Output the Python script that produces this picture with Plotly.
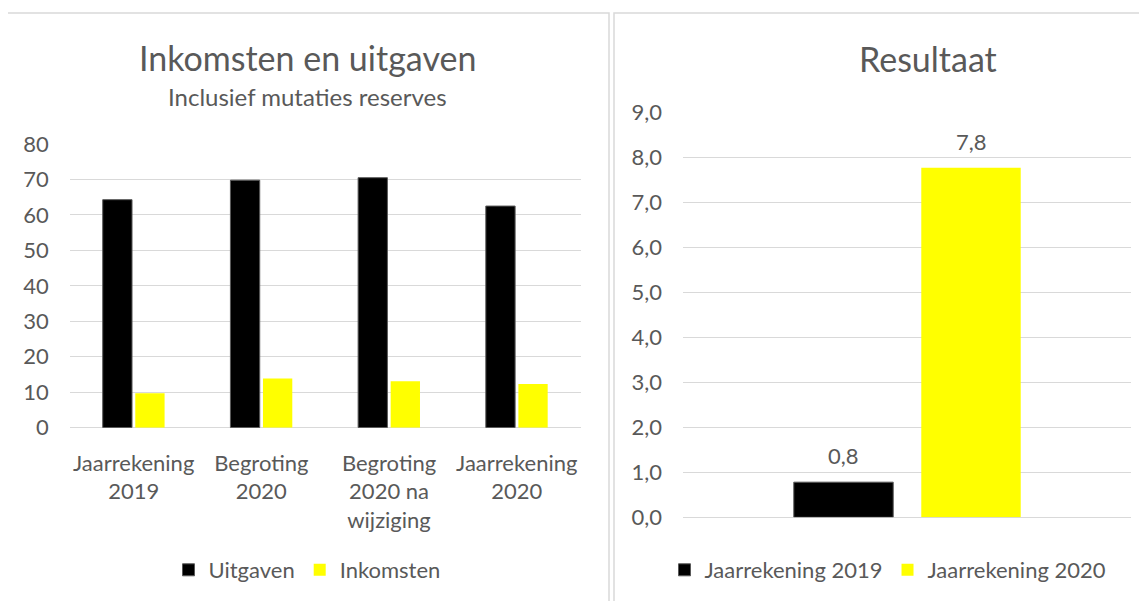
import plotly.graph_objects as go

# ---- data ----
categories = ["Jaarrekening<br>2019", "Begroting<br>2020", "Begroting<br>2020 na<br>wijziging", "Jaarrekening<br>2020"]
uitgaven = [64.3, 69.8, 70.5, 62.5]
inkomsten = [9.7, 13.9, 13.1, 12.3]

result_names = ["Jaarrekening 2019", "Jaarrekening 2020"]
result_values = [0.78, 7.76]
result_colors = ["#000000", "#ffff00"]

left_ticks = [0, 10, 20, 30, 40, 50, 60, 70, 80]
right_ticks = [0, 1, 2, 3, 4, 5, 6, 7, 8, 9]

W, H = 1147, 601
OFF = 8  # page body margin
FONT = "Lato"
TXT = "#595959"
GRID = "#d9d9d9"
FS = 22


def px(x):
    return (x - OFF) / W


def py(y):
    return 1 - (y - OFF) / H


fig = go.Figure()

fig.add_trace(go.Bar(x=categories, y=uitgaven, name="Uitgaven",
                     marker=dict(color="#000000", line=dict(color="#595959", width=1)),
                     xaxis="x", yaxis="y", legend="legend"))
fig.add_trace(go.Bar(x=categories, y=inkomsten, name="Inkomsten",
                     marker=dict(color="#ffff00", line=dict(color="#ffff00", width=0)),
                     xaxis="x", yaxis="y", legend="legend"))

for name, val, col in zip(result_names, result_values, result_colors):
    fig.add_trace(go.Bar(x=[name], y=[val], name=name, width=0.78, offsetgroup="res",
                         marker=dict(color=col, line=dict(color="#595959" if col == "#000000" else col,
                                                          width=1 if col == "#000000" else 0)),
                         xaxis="x2", yaxis="y2", legend="legend2"))

axis_font = dict(family=FONT, size=FS, color=TXT)

annotations = [
    dict(text="Inkomsten en uitgaven", xref="paper", yref="paper", x=px(307), y=py(57),
         xanchor="center", yanchor="middle", showarrow=False,
         font=dict(family=FONT, size=34, color=TXT)),
    dict(text="Inclusief mutaties reserves", xref="paper", yref="paper", x=px(307), y=py(97),
         xanchor="center", yanchor="middle", showarrow=False,
         font=dict(family=FONT, size=24, color=TXT)),
    dict(text="Resultaat", xref="paper", yref="paper", x=px(928), y=py(58),
         xanchor="center", yanchor="middle", showarrow=False,
         font=dict(family=FONT, size=34, color=TXT)),
]
for name, val in zip(result_names, result_values):
    annotations.append(dict(text=f"{val:.1f}".replace(".", ","), xref="x2", yref="y2",
                            x=name, y=val, yanchor="bottom", yshift=11, showarrow=False,
                            font=dict(family=FONT, size=FS, color=TXT)))

fig.update_layout(
    width=W, height=H,
    margin=dict(l=0, r=0, t=0, b=0, pad=0),
    paper_bgcolor="white", plot_bgcolor="white",
    separators=",.",
    barmode="group", bargap=0.49, bargroupgap=0.1,
    font=dict(family=FONT, color=TXT),
    xaxis=dict(domain=[px(69.8), px(580.6)], showgrid=False, showline=False,
               ticks="", tickfont=axis_font, fixedrange=True, automargin=False,
               ticklabelstandoff=20),
    yaxis=dict(domain=[py(427.7), py(144)], range=[0, 80], tickvals=left_ticks,
               showgrid=True, gridcolor=GRID, gridwidth=1, zeroline=True,
               zerolinecolor=GRID, zerolinewidth=1, showline=False, ticks="",
               tickfont=axis_font, ticklabelstandoff=20, automargin=False),
    xaxis2=dict(domain=[px(683), px(1131)], showgrid=False, showline=False,
                showticklabels=False, ticks="", anchor="y2", type="category",
                range=[-1.259, 2.255], automargin=False),
    yaxis2=dict(domain=[py(517.3), py(112)], range=[0, 9], tickvals=right_ticks,
                tickformat=".1f", showgrid=True, gridcolor=GRID, gridwidth=1,
                zeroline=True, zerolinecolor=GRID, zerolinewidth=1, showline=False,
                ticks="", tickfont=axis_font, ticklabelstandoff=20, anchor="x2",
                automargin=False),
    legend=dict(orientation="h", x=px(307), xanchor="center", y=py(570), yanchor="middle",
                font=dict(family=FONT, size=FS, color=TXT), itemwidth=30,
                traceorder="normal", bgcolor="rgba(0,0,0,0)"),
    legend2=dict(orientation="h", x=px(888), xanchor="center", y=py(570), yanchor="middle",
                 font=dict(family=FONT, size=FS, color=TXT), itemwidth=30,
                 traceorder="normal", bgcolor="rgba(0,0,0,0)"),
    showlegend=True,
    shapes=[
        dict(type="rect", xref="paper", yref="paper", x0=px(7), x1=px(609),
             y0=py(660), y1=py(13), line=dict(color=GRID, width=1.5), layer="below"),
        dict(type="rect", xref="paper", yref="paper", x0=px(614), x1=px(1170),
             y0=py(660), y1=py(13), line=dict(color=GRID, width=1.5), layer="below"),
    ],
    annotations=annotations,
)

fig.write_html("out.html")
